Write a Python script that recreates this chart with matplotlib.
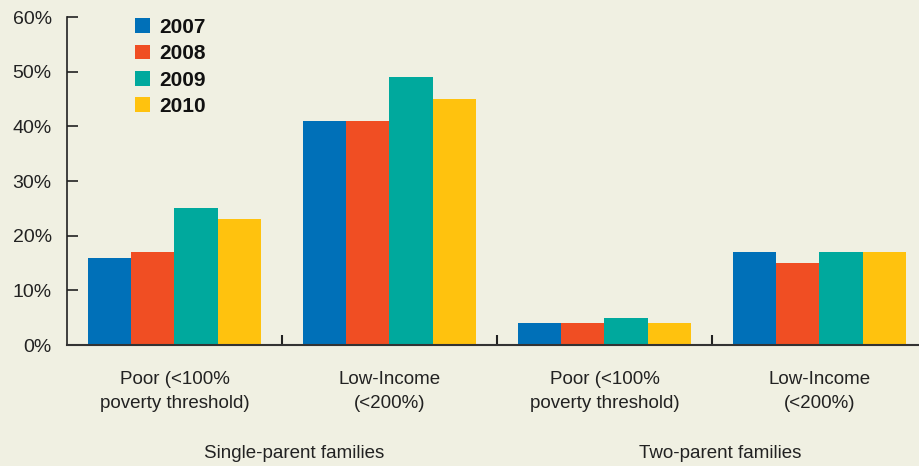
import numpy as np
import matplotlib.pyplot as plt
from matplotlib.transforms import blended_transform_factory

# -----------------------------
# Data
# -----------------------------
years = ["2007", "2008", "2009", "2010"]
categories = ["Poor (<100%\npoverty threshold)", "Low-Income\n(<200%)",
              "Poor (<100%\npoverty threshold)", "Low-Income\n(<200%)"]
family_groups = ["Single-parent families", "Two-parent families"]

v2007 = [16, 41, 4, 17]
v2008 = [17, 41, 4, 15]
v2009 = [25, 49, 5, 17]
v2010 = [23, 45, 4, 17]

colors = ["#0070B8", "#F04E23", "#00A99D", "#FFC20E"]
bg = "#F0F0E2"

plt.rcParams['font.family'] = ['Liberation Sans', 'DejaVu Sans']

# -----------------------------
# Figure
# -----------------------------
W, H = 919, 466
fig = plt.figure(figsize=(W / 100, H / 100), dpi=100, facecolor=bg)
ax = fig.add_axes([67 / W, 1 - 345 / H, 1 - 67 / W, (345 - 17) / H])
ax.set_facecolor(bg)

x = np.arange(len(categories))
bw = 0.201
series = [v2007, v2008, v2009, v2010]
for i, (vals, c, lab) in enumerate(zip(series, colors, years)):
    ax.bar(x + (i - 1.5) * bw, vals, width=bw, color=c, label=lab, linewidth=0)

ax.set_xlim(-0.5, 3.463)
ax.set_ylim(0, 60)

ax.set_yticks(range(0, 61, 10))
ax.set_yticklabels([f"{v}%" for v in range(0, 61, 10)])
ax.tick_params(axis='y', direction='in', length=8, width=1.2, pad=11,
               labelsize=14, colors='#222222', labelcolor='#222222')

ax.set_xticks(x)
ax.set_xticklabels(categories, linespacing=1.5)
ax.tick_params(axis='x', which='major', length=0, pad=19, labelsize=13.5,
               labelcolor='#222222')
ax.set_xticks([0.5, 1.5, 2.5], minor=True)
ax.tick_params(axis='x', which='minor', direction='in', length=7.5, width=1.5,
               colors='#222222')

for s in ['top', 'right']:
    ax.spines[s].set_visible(False)
ax.spines['left'].set_color('#222222')
ax.spines['left'].set_linewidth(1.2)
ax.spines['bottom'].set_color('#333333')
ax.spines['bottom'].set_linewidth(1.5)

# group labels under the category labels
trans = blended_transform_factory(ax.transData, fig.transFigure)
ax.text(0.555, 1 - 453 / H, family_groups[0], transform=trans,
        ha='center', va='center', fontsize=13.5, color='#222222')
ax.text(2.537, 1 - 453 / H, family_groups[1], transform=trans,
        ha='center', va='center', fontsize=13.5, color='#222222')

leg = fig.legend(loc='upper left', bbox_to_anchor=(135 / W, 1 - 18 / H),
                 frameon=False, borderpad=0, borderaxespad=0,
                 handlelength=0.72, handleheight=0.72, handletextpad=0.45,
                 labelspacing=0.35, prop={'weight': 'bold', 'size': 15})
for t in leg.get_texts():
    t.set_color('#111111')

fig.savefig("out.png", dpi=100, facecolor=bg)
